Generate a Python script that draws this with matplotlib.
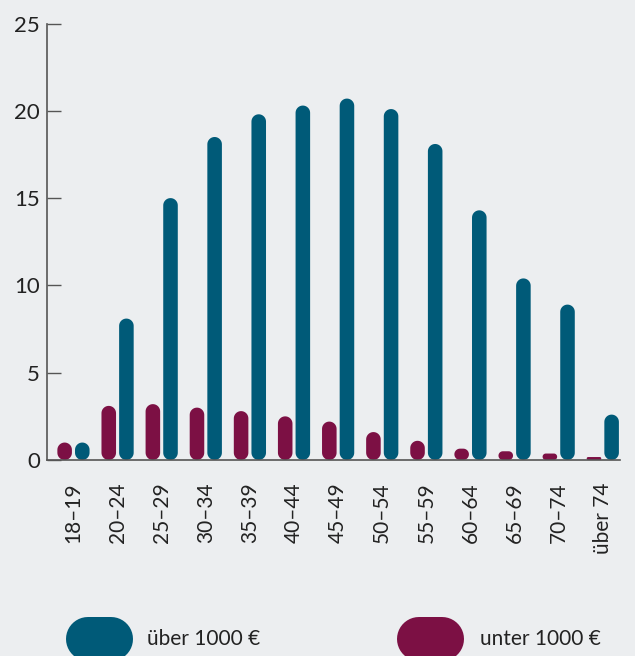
import numpy as np
import matplotlib.pyplot as plt
from matplotlib.patches import Polygon

plt.rcParams['font.family'] = ['Lato', 'DejaVu Sans']

# age groups and shares in percent
age_groups = ['18–19', '20–24', '25–29', '30–34', '35–39', '40–44', '45–49',
              '50–54', '55–59', '60–64', '65–69', '70–74', 'über 74']
ueber_1000 = [1.0, 8.1, 15.0, 18.5, 19.8, 20.3, 20.7, 20.1, 18.1, 14.3, 10.4, 8.9, 2.6]
unter_1000 = [1.0, 3.1, 3.2, 3.0, 2.8, 2.5, 2.2, 1.6, 1.1, 0.65, 0.5, 0.37, 0.17]
y_ticks = [0, 5, 10, 15, 20, 25]

teal = '#005a78'
maroon = '#7c1044'
bg = '#eceef0'
ink = '#222222'

fig = plt.figure(figsize=(6.35, 6.56), dpi=100, facecolor=bg)
ax = fig.add_axes([47 / 635, 1 - 460 / 656, 573 / 635, 436.5 / 656])
ax.set_facecolor(bg)
ax.set_xlim(-0.6, 12.39)
ax.set_ylim(0, 25)

# data units per pixel
px_x = 12.99 / 573
px_y = 25 / 436.5
bar_w = 0.33


def stadium(axis, x0, y0, w, h, sx, sy, color):
    # rounded-end shape; sx, sy = data units per pixel
    r = min(w / sx / 2, abs(h) / sy / 2)
    rx, ry = r * sx, r * sy
    t = np.linspace(0, np.pi / 2, 12)
    cx_l, cx_r = x0 + rx, x0 + w - rx
    y_top, y_bot = y0 + h, y0
    sgn = 1 if h >= 0 else -1
    xs = np.concatenate([cx_r + rx * np.cos(t), cx_l - rx * np.cos(t[::-1]),
                         cx_l - rx * np.cos(t), cx_r + rx * np.cos(t[::-1])])
    ys = np.concatenate([y_top - sgn * ry + sgn * ry * np.sin(t),
                         y_top - sgn * ry + sgn * ry * np.sin(t[::-1]),
                         y_bot + sgn * ry - sgn * ry * np.sin(t),
                         y_bot + sgn * ry - sgn * ry * np.sin(t[::-1])])
    axis.add_patch(Polygon(np.column_stack([xs, ys]), closed=True, fc=color, ec='none'))


for i in range(len(age_groups)):
    stadium(ax, i - 0.2 - bar_w / 2, 0, bar_w, unter_1000[i], px_x, px_y, maroon)
    stadium(ax, i + 0.2 - bar_w / 2, 0, bar_w, ueber_1000[i], px_x, px_y, teal)

for s in ['top', 'right']:
    ax.spines[s].set_visible(False)
for s in ['left', 'bottom']:
    ax.spines[s].set_color('#555555')
    ax.spines[s].set_linewidth(1.2)

ax.set_yticks(y_ticks)
ax.set_yticklabels([str(t) for t in y_ticks])
ax.tick_params(axis='y', direction='in', length=10, width=1, color='#555555',
               labelsize=16, labelcolor=ink, pad=5)
ax.set_xticks(range(len(age_groups)))
ax.set_xticklabels(age_groups, rotation=90, va='top', ha='center')
ax.tick_params(axis='x', length=0, labelsize=15, labelcolor=ink, pad=16)

# legend drawn in pixel coordinates (y axis points down)
lg = fig.add_axes([0, 0, 1, 1], facecolor='none')
lg.set_xlim(0, 635)
lg.set_ylim(656, 0)
lg.axis('off')
stadium(lg, 66, 617, 67, 44, 1, 1, teal)
stadium(lg, 397, 617, 67, 44, 1, 1, maroon)
lg.text(147, 639, 'über 1000 €', fontsize=15, color=ink, va='center', ha='left')
lg.text(480, 639, 'unter 1000 €', fontsize=15, color=ink, va='center', ha='left')

fig.savefig('out.png', dpi=100, facecolor=bg)
